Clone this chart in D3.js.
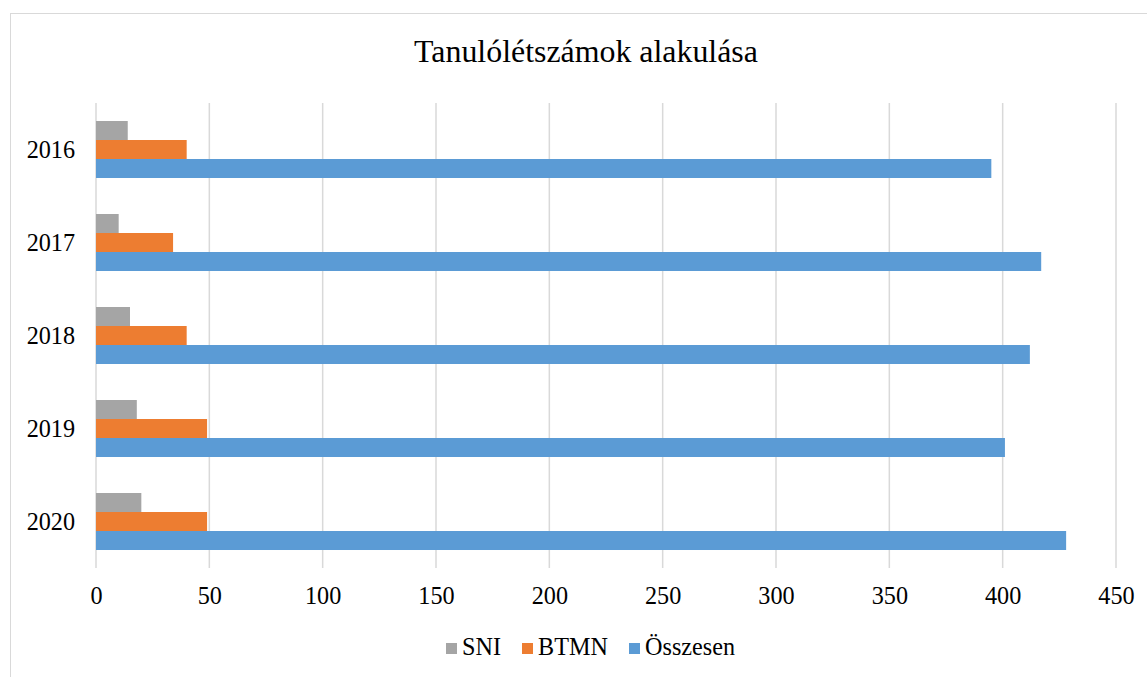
<!DOCTYPE html>
<meta charset="utf-8">
<style>
  body { margin: 0; background: #fff; }
  text { font-family: "Liberation Serif", "Times New Roman", Tinos, "Nimbus Roman", "Noto Serif", FreeSerif, "DejaVu Serif", serif; fill: #000; }
  .grid line { stroke: #d9d9d9; stroke-width: 1.5px; }
</style>
<body>
<script src="https://d3js.org/d3.v7.min.js"></script>
<script>

// chart data
var years = ["2016", "2017", "2018", "2019", "2020"];
var seriesNames = ["SNI", "BTMN", "Összesen"];
var sni = [14, 10, 15, 18, 20];
var btmn = [40, 34, 40, 49, 49];
var osszesen = [395, 417, 412, 401, 428];
var xTicks = [0, 50, 100, 150, 200, 250, 300, 350, 400, 450];
var colors = ["#a5a5a5", "#ed7d31", "#5b9bd5"];

var seriesValues = [sni, btmn, osszesen];
var fontStack = "'Liberation Serif', 'Times New Roman', Tinos, 'Nimbus Roman', 'Noto Serif', FreeSerif, 'DejaVu Serif', serif";

var width = 1147, height = 677;
var margin = {top: 103, left: 96, right: 31, bottom: 109};

var svg = d3.select("body").append("svg")
    .attr("width", width)
    .attr("height", height);

// outer chart frame
svg.append("rect")
    .attr("x", 10.5).attr("y", 13.5)
    .attr("width", 1160).attr("height", 700)
    .attr("fill", "none")
    .attr("stroke", "#d9d9d9");

var x = d3.scaleLinear()
    .domain([0, 450])
    .range([margin.left, width - margin.right]);

var y = d3.scaleBand()
    .domain(years)
    .range([margin.top, height - margin.bottom])
    .paddingInner(0.387)
    .paddingOuter(0.1935);

var ySub = d3.scaleBand()
    .domain(seriesNames)
    .range([0, y.bandwidth()]);

// vertical grid lines
svg.append("g")
    .attr("class", "grid")
    .selectAll("line")
    .data(xTicks)
    .join("line")
    .attr("x1", function(d) { return x(d); })
    .attr("x2", function(d) { return x(d); })
    .attr("y1", margin.top)
    .attr("y2", height - margin.bottom);

// bars
var groups = svg.append("g")
    .selectAll("g")
    .data(years)
    .join("g")
    .attr("transform", function(d) { return "translate(0," + y(d) + ")"; });

groups.selectAll("rect")
    .data(function(d, i) {
      return seriesNames.map(function(s, j) {
        return {name: s, value: seriesValues[j][i], color: colors[j]};
      });
    })
    .join("rect")
    .attr("x", x(0))
    .attr("y", function(d) { return ySub(d.name); })
    .attr("width", function(d) { return x(d.value) - x(0); })
    .attr("height", ySub.bandwidth())
    .attr("fill", function(d) { return d.color; });

// title (measured so the font, whichever is found, spans the same width)
var title = svg.append("text")
    .attr("x", 586)
    .attr("y", 62)
    .attr("text-anchor", "middle")
    .style("font-family", fontStack)
    .style("font-size", "29px")
    .text("Tanulólétszámok alakulása");
var k = 344 / title.node().getComputedTextLength();
title.style("font-size", (29 * k) + "px");
var labelSize = (22 * k) + "px";

// x axis labels
var xAxis = svg.append("g")
    .attr("transform", "translate(0," + (height - margin.bottom) + ")")
    .call(d3.axisBottom(x).tickValues(xTicks).tickSize(0).tickPadding(36));
xAxis.select(".domain").remove();
xAxis.selectAll("text")
    .attr("dy", 0)
    .style("font-size", labelSize)
    .style("font-family", fontStack);

// y axis labels
var yAxis = svg.append("g")
    .attr("transform", "translate(" + margin.left + ",0)")
    .call(d3.axisLeft(y).tickSize(0).tickPadding(21));
yAxis.select(".domain").remove();
yAxis.selectAll("text")
    .attr("dy", "0.35em")
    .style("font-size", labelSize)
    .style("font-family", fontStack);

// legend
var legendX = [446, 522, 629];
var legend = svg.append("g")
    .selectAll("g")
    .data(seriesNames)
    .join("g")
    .attr("transform", function(d, i) { return "translate(" + legendX[i] + ",643)"; });
legend.append("rect")
    .attr("width", 11).attr("height", 11)
    .attr("fill", function(d, i) { return colors[i]; });
legend.append("text")
    .attr("x", 16)
    .attr("y", 12)
    .style("font-family", fontStack)
    .style("font-size", labelSize)
    .text(function(d) { return d; });

</script>
</body>
